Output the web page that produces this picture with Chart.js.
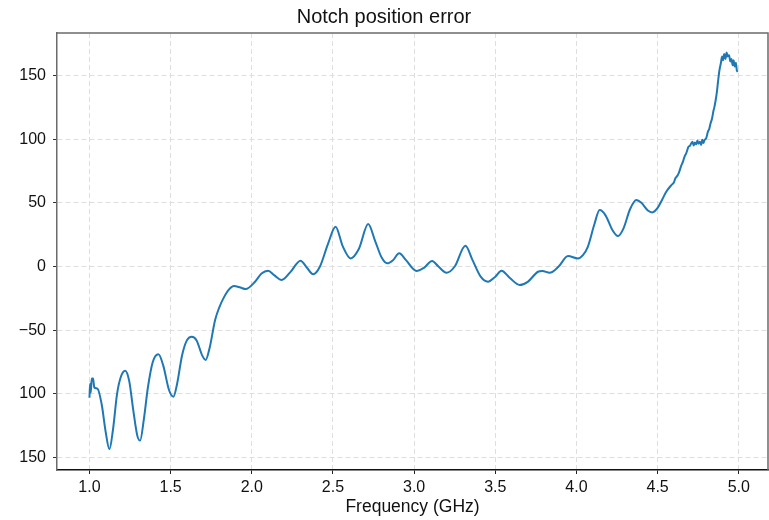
<!DOCTYPE html>
<html>
<head>
<meta charset="utf-8">
<title>Notch position error</title>
<script src="https://cdn.jsdelivr.net/npm/chart.js@4"></script>
<style>
  html, body { margin: 0; padding: 0; background: #fff; }
  #wrap { width: 769px; height: 520px; }
</style>
</head>
<body>
<div id="wrap"><canvas id="notchChart" width="769" height="520"></canvas></div>
<script>
// Frequency sweep (GHz) and the measured notch position error at each point
const freqGHz = [
  1.000, 1.004, 1.008, 1.014, 1.022, 1.030, 1.050, 1.075, 1.100, 1.123,
  1.145, 1.170, 1.195, 1.220, 1.245, 1.270, 1.295, 1.312, 1.335, 1.360,
  1.390, 1.425, 1.455, 1.490, 1.517, 1.540, 1.570, 1.600, 1.630, 1.660,
  1.695, 1.716, 1.740, 1.774, 1.800, 1.825, 1.860, 1.890, 1.930, 1.962,
  2.020, 2.060, 2.100, 2.140, 2.184, 2.240, 2.300, 2.340, 2.378, 2.420,
  2.470, 2.516, 2.560, 2.609, 2.660, 2.717, 2.760, 2.800, 2.834, 2.870,
  2.908, 2.950, 3.015, 3.060, 3.111, 3.150, 3.199, 3.250, 3.316, 3.360,
  3.410, 3.455, 3.500, 3.538, 3.590, 3.650, 3.700, 3.763, 3.790, 3.835,
  3.890, 3.948, 4.009, 4.040, 4.070, 4.110, 4.143, 4.180, 4.220, 4.256,
  4.290, 4.330, 4.369, 4.400, 4.440, 4.467, 4.500, 4.530, 4.553, 4.585,
  4.600, 4.610, 4.620, 4.632, 4.645, 4.655, 4.665, 4.676, 4.690, 4.700,
  4.707, 4.715, 4.722, 4.730, 4.738, 4.745, 4.752, 4.760, 4.768, 4.775,
  4.782, 4.789, 4.800, 4.810, 4.818, 4.825, 4.835, 4.842, 4.850, 4.858,
  4.865, 4.872, 4.881, 4.890, 4.897, 4.903, 4.910, 4.918, 4.925, 4.932,
  4.940, 4.948, 4.955, 4.962, 4.968, 4.975, 4.982, 4.988, 4.994
];
const errorVals = [
  -103, -92, -99, -88, -88, -95, -96, -108, -130, -143.5,
  -128, -100, -86, -81.8, -90, -113, -133, -136.7, -120, -95,
  -75, -68.9, -78, -97, -102.2, -92, -70, -58, -55.1, -58,
  -70, -73.4, -64, -42, -32, -25, -18, -15.3, -16.5, -17.7,
  -11.9, -5.5, -3.3, -7, -10.6, -4, 4.6, -1, -6.1, 0,
  18, 31.2, 16, 6.4, 14, 33.4, 20, 7, 2.5, 5,
  10.4, 5, -3.5, -1, 4.3, 0, -4.9, 0, 16.3, 5,
  -8, -11.9, -8, -3.3, -9, -14.5, -12, -4.1, -3.5, -4.9,
  0, 8.2, 6.4, 9, 15.5, 33, 44.3, 40, 29, 23.9,
  30, 45, 52.2, 50, 44, 42.5, 46, 53, 58.7, 64,
  66, 69.5, 71, 74, 79, 82, 86, 88.9, 94, 95,
  96.7, 98, 95, 97.5, 96, 99, 96.5, 98, 95.5, 99.5,
  97, 99.3, 101, 106, 108, 112, 116, 121, 125.4, 131,
  137, 145, 154.2, 160, 165, 162, 167, 163, 168, 165,
  166, 161, 163, 158, 162, 157, 160, 154, 153
];

// Axis ticks and their printed labels
const xTicks = [1.0, 1.5, 2.0, 2.5, 3.0, 3.5, 4.0, 4.5, 5.0];
const xTickLabels = ['1.0', '1.5', '2.0', '2.5', '3.0', '3.5', '4.0', '4.5', '5.0'];
const yTicks = [150, 100, 50, 0, -50, -100, -150];
const yTickLabels = ['150', '100', '50', '0', '\u221250', '100', '150'];

const FONT = '"Liberation Sans", Arial, Helvetica, sans-serif';

// top and right frame lines (left/bottom come from the axis borders)
const frame = {
  id: 'frame',
  afterDraw(chart) {
    const { ctx, chartArea: a } = chart;
    ctx.save();
    ctx.strokeStyle = '#6b6b6b';
    ctx.lineWidth = 1.5;
    ctx.beginPath();
    ctx.moveTo(a.left, a.top);
    ctx.lineTo(a.right, a.top);
    ctx.lineTo(a.right, a.bottom);
    ctx.stroke();
    ctx.restore();
  }
};

function lagGraf() {
  const ctx = document.getElementById('notchChart').getContext('2d');
  return new Chart(ctx, {
    type: 'line',
    data: {
      datasets: [{
        data: freqGHz.map((f, i) => ({ x: f, y: errorVals[i] })),
        borderColor: '#1f77b4',
        borderWidth: 2,
        pointRadius: 0,
        cubicInterpolationMode: 'monotone',
        fill: false
      }]
    },
    options: {
      responsive: false,
      animation: false,
      events: [],
      layout: { padding: { left: 0, right: 1, top: 0, bottom: 0 } },
      plugins: {
        legend: { display: false },
        tooltip: { enabled: false },
        title: {
          display: true,
          text: 'Notch position error',
          color: '#111',
          font: { family: FONT, size: 20, weight: 'normal', lineHeight: 1.2 },
          padding: { top: 5, bottom: 4 }
        }
      },
      scales: {
        x: {
          type: 'linear',
          min: 0.8,
          max: 5.18,
          afterBuildTicks(scale) { scale.ticks = xTicks.map(v => ({ value: v })); },
          afterFit(scale) { scale.height = 50; },
          ticks: {
            padding: 4,
            color: '#111',
            font: { family: FONT, size: 16 },
            maxRotation: 0,
            autoSkip: false,
            callback: (v) => xTickLabels[xTicks.indexOf(v)]
          },
          grid: {
            color: '#dedede',
            lineWidth: 1,
            drawTicks: true,
            tickLength: 4,
            tickColor: '#222',
            tickBorderDash: []
          },
          // dash applies to the grid lines in v4
          border: { display: true, color: '#111', width: 1.5, dash: [5, 3] },
          title: {
            display: true,
            text: 'Frequency (GHz)',
            color: '#111',
            font: { family: FONT, size: 17.5 },
            padding: { top: 0, bottom: 2 }
          }
        },
        y: {
          type: 'linear',
          min: -159.8,
          max: 183.4,
          afterBuildTicks(scale) { scale.ticks = yTicks.map(v => ({ value: v })); },
          afterFit(scale) { scale.width = 57; },
          ticks: {
            padding: 7,
            color: '#111',
            font: { family: FONT, size: 16 },
            autoSkip: false,
            callback: (v) => yTickLabels[yTicks.indexOf(v)]
          },
          grid: {
            color: '#dedede',
            lineWidth: 1,
            drawTicks: true,
            tickLength: 4,
            tickColor: '#333',
            tickBorderDash: []
          },
          border: { display: true, color: '#6b6b6b', width: 1.5, dash: [5, 3] }
        }
      }
    },
    plugins: [frame]
  });
}

window.onload = function () {
  lagGraf();
};
</script>
</body>
</html>
